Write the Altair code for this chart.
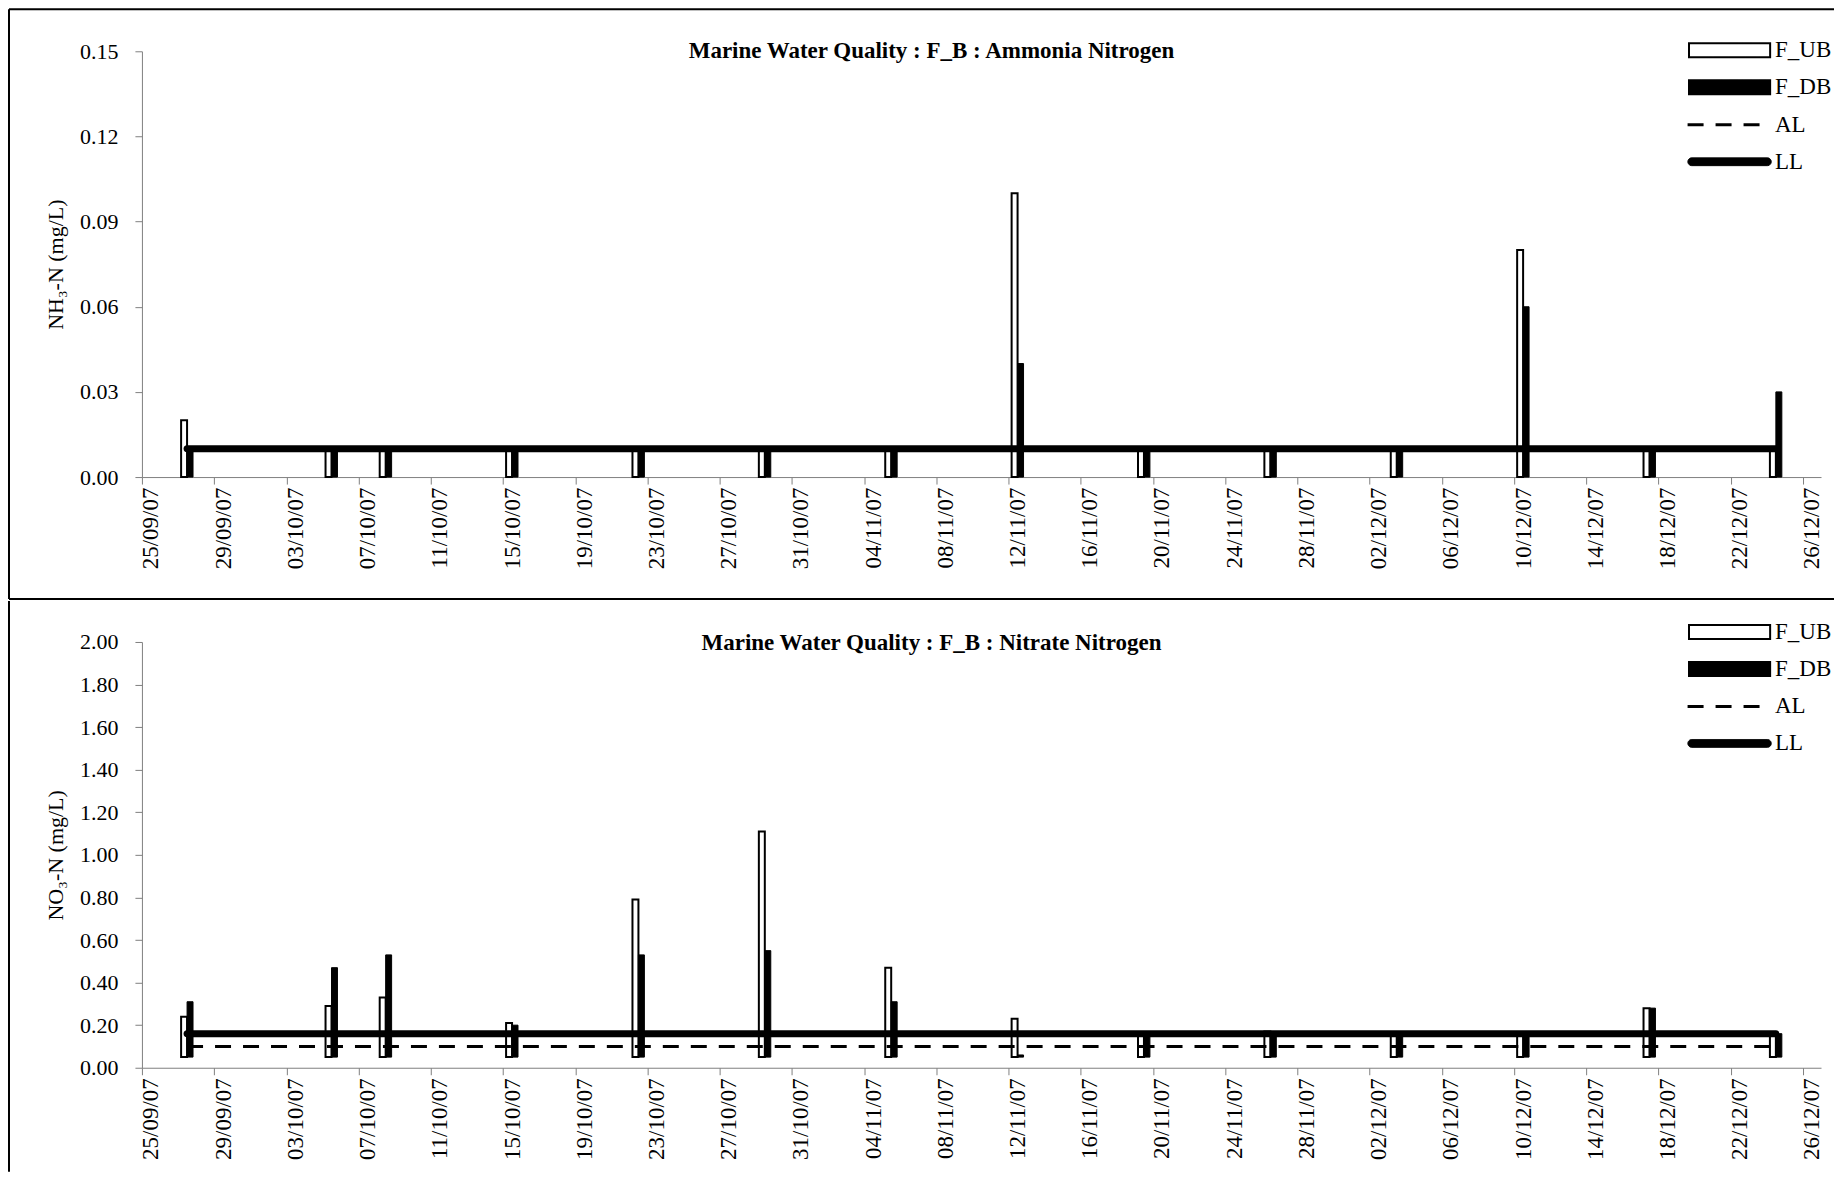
import altair as alt
import pandas as pd

# ---------------- data ----------------
sample_dates = ["2007-09-27", "2007-10-05", "2007-10-08", "2007-10-15", "2007-10-22",
                "2007-10-29", "2007-11-05", "2007-11-12", "2007-11-19", "2007-11-26",
                "2007-12-03", "2007-12-10", "2007-12-17", "2007-12-24"]

nh3_ub = [0.02, 0.01, 0.01, 0.01, 0.01, 0.01, 0.01, 0.10, 0.01, 0.01, 0.01, 0.08, 0.01, 0.01]
nh3_db = [0.01, 0.01, 0.01, 0.01, 0.01, 0.01, 0.01, 0.04, 0.01, 0.01, 0.01, 0.06, 0.01, 0.03]
nh3_ll = [0.01, 0.01, 0.01, 0.01, 0.01, 0.01, 0.01, 0.01, 0.01, 0.01, 0.01, 0.01, 0.01, 0.01]

no3_ub = [0.24, 0.29, 0.33, 0.21, 0.79, 1.11, 0.47, 0.23, 0.15, 0.17, 0.15, 0.15, 0.28, 0.15]
no3_db = [0.31, 0.47, 0.53, 0.20, 0.53, 0.55, 0.31, 0.06, 0.15, 0.17, 0.15, 0.15, 0.28, 0.16]
no3_al = [0.10, 0.10, 0.10, 0.10, 0.10, 0.10, 0.10, 0.10, 0.10, 0.10, 0.10, 0.10, 0.10, 0.10]
no3_ll = [0.16, 0.16, 0.16, 0.16, 0.16, 0.16, 0.16, 0.16, 0.16, 0.16, 0.16, 0.16, 0.16, 0.16]

nh3_ticks = [0.0, 0.03, 0.06, 0.09, 0.12, 0.15]
no3_ticks = [0.0, 0.2, 0.4, 0.6, 0.8, 1.0, 1.2, 1.4, 1.6, 1.8, 2.0]

series_names = ["F_UB", "F_DB", "AL", "LL"]
axis_start = "2007-09-25"
axis_end_days = 93          # axis runs to 27/12/07
date_tick_days = list(range(0, 93, 4))   # 25/09/07 ... 26/12/07

# ---------------- styling ----------------
FONT = "Liberation Serif"
PLOT_W = 1680
PLOT_H = 426
GRAY = "#808080"
DASH = [16, 12]
RECT_PATH = "M-2.9,-0.5H2.9V0.5H-2.9Z"
DASH_PATH = "M-3,0H2.15"
ROUND_PATH = "M-2.7,-0.28H2.7A0.28,0.28 0 0 1 2.7,0.28H-2.7A0.28,0.28 0 0 1 -2.7,-0.28Z"

start = pd.Timestamp(axis_start)
days = [(pd.Timestamp(d) - start).days for d in sample_dates]


def panel(title, ytitle, ub, db, al, ll, yticks, base, legend_y, frame_bottom, top_rule):
    df = pd.DataFrame({"day": days, "F_UB": ub, "F_DB": db, "AL": al, "LL": ll})
    base_c = alt.Chart(df).transform_calculate(
        xc="datum.day + 0.5",
        ub0="datum.day + 0.5 - 0.33",
        db1="datum.day + 0.5 + 0.33",
    )
    xs = alt.Scale(domain=[0, axis_end_days], nice=False, zero=False)
    ys = alt.Scale(domain=[yticks[0], yticks[-1]], nice=False)
    xaxis = alt.Axis(
        values=date_tick_days,
        labelExpr="timeFormat(datetime(2007, 8, 25 + datum.value), '%d/%m/%y')",
        labelAngle=-90, labelAlign="right", labelBaseline="top",
        labelFont=FONT, labelFontSize=23, labelColor="black", labelOffset=-2,
        tickSize=7, tickColor=GRAY, domainColor=GRAY, labelPadding=3,
        grid=False, title=None, labelOverlap=False, labelFlush=False,
    )
    yaxis = alt.Axis(
        values=yticks, format=".2f", grid=False,
        labelFont=FONT, labelFontSize=22, labelColor="black", labelPadding=17,
        tickSize=7, tickColor=GRAY, domainColor=GRAY,
        title=ytitle, titleFont=FONT, titleFontSize=22, titleFontWeight="normal",
        titleColor="black", titlePadding=12,
    )

    def X(f):
        return alt.X(f, scale=xs, axis=xaxis)

    def Y(f):
        return alt.Y(f, scale=ys, axis=yaxis)

    ub_bar = base_c.mark_rect(fill="white", stroke="black", strokeWidth=2).encode(
        x=X("ub0:Q"), x2="xc:Q", y=Y("F_UB:Q"), y2=alt.datum(base),
    )
    db_bar = base_c.mark_rect(fill="black", stroke="black", strokeWidth=1).encode(
        x=X("xc:Q"), x2="db1:Q", y=Y("F_DB:Q"), y2=alt.datum(base),
    )
    layers = [ub_bar, db_bar]
    if al is not None:
        layers.append(base_c.mark_line(color="black", strokeWidth=3, strokeDash=DASH).encode(
            x=X("xc:Q"), y=Y("AL:Q"),
        ))
    layers.append(base_c.mark_line(color="black", strokeWidth=7, strokeCap="round", strokeJoin="round").encode(
        x=X("xc:Q"), y=Y("LL:Q"),
    ))

    leg = alt.Legend(
        title=None, orient="none", legendX=1573, legendY=legend_y,
        labelFont=FONT, labelFontSize=23, labelColor="black",
        symbolSize=784, labelOffset=30, rowPadding=10,
    )
    leg_df = pd.DataFrame({"series": series_names})
    legend_layer = alt.Chart(leg_df).transform_filter("false").mark_point(
        filled=True, stroke="black", opacity=1
    ).encode(
        color=alt.Color("series:N", scale=alt.Scale(domain=series_names,
                        range=["white", "black", "transparent", "black"]), legend=leg),
        shape=alt.Shape("series:N", scale=alt.Scale(domain=series_names,
                        range=[RECT_PATH, RECT_PATH, DASH_PATH, ROUND_PATH]), legend=leg),
        strokeDash=alt.StrokeDash("series:N", scale=alt.Scale(domain=series_names,
                        range=[[1, 0], [1, 0], DASH, [1, 0]]), legend=leg),
        strokeWidth=alt.StrokeWidth("series:N", scale=alt.Scale(type="ordinal", domain=series_names,
                        range=[2, 2, 3, 1]), legend=leg),
    )
    layers.append(legend_layer)

    # panel frame (decoration)
    one = pd.DataFrame({"k": [0]})
    frame = []
    if top_rule:
        frame.append(alt.Chart(one).mark_rule(color="black", strokeWidth=2).encode(
            x=alt.value(-133), x2=alt.value(1693), y=alt.value(-42)))
    frame.append(alt.Chart(one).mark_rule(color="black", strokeWidth=2).encode(
        x=alt.value(-133), y=alt.value(-42 if top_rule else -41), y2=alt.value(frame_bottom)))
    if top_rule:
        frame.append(alt.Chart(one).mark_rule(color="black", strokeWidth=2).encode(
            x=alt.value(-133), x2=alt.value(1693), y=alt.value(frame_bottom)))

    return alt.layer(*layers, *frame).properties(
        width=PLOT_W, height=PLOT_H,
        title=alt.TitleParams(text=title, font=FONT, fontSize=23, fontWeight="bold",
                              color="black", anchor="middle", dx=-50, offset=-55),
    )


top = panel("Marine Water Quality : F_B : Ammonia Nitrogen", "NH\u2083-N (mg/L)",
            nh3_ub, nh3_db, None, nh3_ll, nh3_ticks, 0.0, -16, 548, True)
bottom = panel("Marine Water Quality : F_B : Nitrate Nitrogen", "NO\u2083-N (mg/L)",
               no3_ub, no3_db, no3_al, no3_ll, no3_ticks, 0.05, -25, 530, False)

chart = alt.vconcat(top, bottom, spacing=0).resolve_scale(
    color="independent", shape="independent", strokeDash="independent", strokeWidth="independent"
).properties(padding=0, background="white").configure_view(stroke=None)

chart.save("out.html", embed_options={"renderer": "svg", "actions": False})
